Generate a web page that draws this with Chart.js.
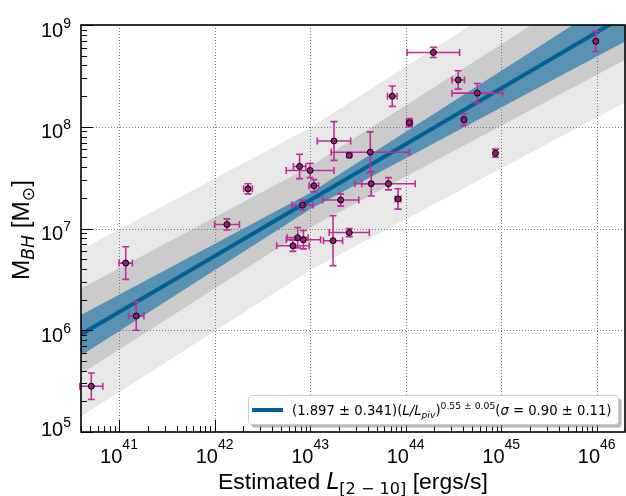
<!DOCTYPE html>
<html><head><meta charset="utf-8">
<script src="https://cdn.jsdelivr.net/npm/chart.js@4.4.1/dist/chart.umd.min.js"></script>
<style>html,body{margin:0;padding:0;background:#fff;overflow:hidden}canvas{display:block}</style>
</head><body>
<canvas id="c" width="626" height="496"></canvas>
<script>
// ---- data (log10 units) ----
const logL    = [40.71, 41.07, 41.18, 42.13, 42.35, 43.25, 43.41, 43.63, 42.89, 43.00,
                 43.04, 42.92, 43.32, 42.87, 42.93, 42.82, 43.24, 43.41, 43.64, 43.82,
                 43.92, 44.04, 44.29, 43.86, 44.55, 44.75, 44.61, 44.94, 45.99];
const logM    = [5.45, 6.66, 6.14, 7.04, 7.39, 7.86, 7.72, 7.75, 7.61, 7.57,
                 7.42, 7.23, 7.28, 6.91, 6.89, 6.83, 6.88, 6.96, 7.44, 7.44,
                 7.29, 8.04, 8.73, 8.30, 8.46, 8.33, 8.07, 7.74, 8.84];
const logLerr = [0.12, 0.07, 0.08, 0.13, 0.045, 0.175, 0.02, 0.41, 0.065, 0.25,
                 0.05, 0.11, 0.19, 0.11, 0.18, 0.17, 0.10, 0.21, 0.17, 0.28,
                 0.03, 0.03, 0.275, 0.05, 0.065, 0.265, 0.02, 0.01, 0.01];
const logMerr = [0.13, 0.16, 0.14, 0.055, 0.05, 0.19, 0.02, 0.20, 0.12, 0.07,
                 0.06, 0.05, 0.06, 0.10, 0.09, 0.055, 0.245, 0.04, 0.12, 0.06,
                 0.10, 0.04, 0.05, 0.10, 0.09, 0.095, 0.056, 0.04, 0.10];

// fit line and bands (log10 units)
const fitX       = [40.5, 46.4];
const fitY       = [5.903, 9.148];
const bandX      = [40.5, 43.0, 46.4];
const blueUpper  = [6.10, 7.35, 9.39];
const blueLower  = [5.69, 7.19, 8.89];
const darkUpper  = [6.36, 7.61, 9.65];
const darkLower  = [5.51, 7.01, 8.71];
const lightUpper = [6.74, 7.99, 10.03];
const lightLower = [5.09, 6.59, 8.29];

// axes
const xTickExp = [41, 42, 43, 44, 45, 46];
const yTickExp = [5, 6, 7, 8, 9];
const xRangeExp = [40.602, 46.296];
const yRangeExp = [5, 9];

// ---- styling ----
const SANS = '"Liberation Sans", Arial, sans-serif';
const MATH = '"DejaVu Sans", sans-serif';
const C_LIGHT = '#e8e8e8', C_DARK = '#cbcbcb', C_BLUE = 'rgb(88,145,178)', C_LINE = 'rgb(0,98,148)';
const C_ERR = '#c02d98', C_PT = '#8e1f73';

function series(xs, ys) { return xs.map((x, i) => ({x: Math.pow(10, x), y: Math.pow(10, ys[i])})); }
function band(data, fill, color, order) {
  return {type: 'line', data, fill, backgroundColor: color, borderWidth: 0, pointRadius: 0, order, tension: 0, clip: 0};
}

const ptsData = logL.map((l, i) => ({x: Math.pow(10, l), y: Math.pow(10, logM[i])}));

function drawRuns(ctx, runs, x, y, scale) {
  let cx = x;
  for (const r of runs) {
    ctx.font = (r.it ? 'italic ' : '') + (r.size * scale) + 'px ' + r.font;
    ctx.fillText(r.t, cx, y + (r.dy || 0) * scale);
    cx += ctx.measureText(r.t).width;
  }
  return cx - x;
}
function runsWidth(ctx, runs, scale) {
  let w = 0;
  for (const r of runs) {
    ctx.font = (r.it ? 'italic ' : '') + (r.size * scale) + 'px ' + r.font;
    w += ctx.measureText(r.t).width;
  }
  return w;
}
function fitScale(ctx, runs, target) {
  return target / runsWidth(ctx, runs, 1);
}

const errPlugin = {
  id: 'errbars',
  beforeDatasetDraw(chart, args) {
    if (args.index !== 7) return;
    const ctx = chart.ctx, xs = chart.scales.x, ys = chart.scales.y;
    ctx.save();
    ctx.strokeStyle = C_ERR; ctx.lineWidth = 1.6;
    const cap = 3.5;
    for (let i = 0; i < logL.length; i++) {
      const px = xs.getPixelForValue(Math.pow(10, logL[i]));
      const py = ys.getPixelForValue(Math.pow(10, logM[i]));
      const x0 = xs.getPixelForValue(Math.pow(10, logL[i] - logLerr[i]));
      const x1 = xs.getPixelForValue(Math.pow(10, logL[i] + logLerr[i]));
      const y0 = ys.getPixelForValue(Math.pow(10, logM[i] - logMerr[i]));
      const y1 = ys.getPixelForValue(Math.pow(10, logM[i] + logMerr[i]));
      ctx.beginPath();
      ctx.moveTo(x0, py); ctx.lineTo(x1, py);
      ctx.moveTo(x0, py - cap); ctx.lineTo(x0, py + cap);
      ctx.moveTo(x1, py - cap); ctx.lineTo(x1, py + cap);
      ctx.moveTo(px, y0); ctx.lineTo(px, y1);
      ctx.moveTo(px - cap, y0); ctx.lineTo(px + cap, y0);
      ctx.moveTo(px - cap, y1); ctx.lineTo(px + cap, y1);
      ctx.stroke();
    }
    ctx.restore();
  },
  afterDatasetDraw(chart, args) {
    if (args.index !== 3) return;
    // dotted grid above grey bands, below blue band
    const ctx = chart.ctx, xs = chart.scales.x, ys = chart.scales.y, a = chart.chartArea;
    ctx.save();
    ctx.strokeStyle = 'rgba(110,110,110,0.9)'; ctx.lineWidth = 1; ctx.setLineDash([1, 2]);
    ctx.beginPath();
    for (const e of xTickExp) {
      const p = Math.round(xs.getPixelForValue(Math.pow(10, e))) + 0.5;
      ctx.moveTo(p, a.top); ctx.lineTo(p, a.bottom);
    }
    for (const e of yTickExp) {
      if (e <= yRangeExp[0] || e >= yRangeExp[1]) continue;
      const p = Math.round(ys.getPixelForValue(Math.pow(10, e))) + 0.5;
      ctx.moveTo(a.left, p); ctx.lineTo(a.right, p);
    }
    ctx.stroke();
    ctx.restore();
  },
  afterDraw(chart) {
    const ctx = chart.ctx, xs = chart.scales.x, ys = chart.scales.y, a = chart.chartArea;
    ctx.save();
    // ticks (inward)
    ctx.strokeStyle = '#000'; ctx.lineWidth = 1;
    ctx.beginPath();
    for (let e = Math.floor(xRangeExp[0]); e <= Math.ceil(xRangeExp[1]); e++) {
      for (let k = 1; k <= 9; k++) {
        const v = Math.log10(k) + e;
        if (v < xRangeExp[0] || v > xRangeExp[1]) continue;
        const p = Math.round(xs.getPixelForValue(Math.pow(10, v))) + 0.5;
        const len = k === 1 ? 12 : 6;
        ctx.moveTo(p, a.bottom); ctx.lineTo(p, a.bottom - len);
      }
    }
    for (let e = yRangeExp[0]; e <= yRangeExp[1]; e++) {
      for (let k = 1; k <= 9; k++) {
        const v = Math.log10(k) + e;
        if (v < yRangeExp[0] || v > yRangeExp[1]) continue;
        const p = Math.round(ys.getPixelForValue(Math.pow(10, v))) + 0.5;
        const len = k === 1 ? 12 : 6;
        ctx.moveTo(a.left, p); ctx.lineTo(a.left + len, p);
      }
    }
    ctx.stroke();
    // frame
    ctx.lineWidth = 1.6; ctx.strokeStyle = '#000';
    ctx.strokeRect(a.left, a.top, a.right - a.left, a.bottom - a.top);

    // tick labels
    ctx.fillStyle = '#000'; ctx.textBaseline = 'alphabetic'; ctx.textAlign = 'left';
    for (const e of xTickExp) {
      const p = xs.getPixelForValue(Math.pow(10, e));
      const runs = [{t: '10', font: SANS, size: 20}, {t: String(e), font: SANS, size: 14, dy: -14}];
      const w = runsWidth(ctx, runs, 1);
      drawRuns(ctx, runs, p - w / 2, 463, 1);
    }
    for (const e of yTickExp) {
      const p = ys.getPixelForValue(Math.pow(10, e));
      const runs = [{t: '10', font: SANS, size: 20}, {t: String(e), font: SANS, size: 14, dy: -9}];
      const w = runsWidth(ctx, runs, 1);
      const base = (e === yRangeExp[0]) ? p + 3.5 : p + 11.7;
      drawRuns(ctx, runs, 71 - w, base, 1);
    }

    // x title
    const xt = [
      {t: 'Estimated ', font: SANS, size: 22},
      {t: 'L', font: MATH, size: 22, it: true},
      {t: '[2 \u2212 10]', font: MATH, size: 15.4, dy: 4.5},
      {t: ' [ergs/s]', font: SANS, size: 22}
    ];
    const sx = fitScale(ctx, xt, 270);
    const wx = runsWidth(ctx, xt, sx);
    drawRuns(ctx, xt, (a.left + a.right) / 2 - wx / 2, 489, sx);

    // y title
    const yt = [
      {t: 'M', font: SANS, size: 22},
      {t: 'BH', font: MATH, size: 15.4, it: true, dy: 4.5},
      {t: ' [M', font: SANS, size: 22},
      {t: '\u2299', font: MATH, size: 15.4, dy: 4.5},
      {t: ']', font: SANS, size: 22}
    ];
    const sy = fitScale(ctx, yt, 100);
    const wy = runsWidth(ctx, yt, sy);
    ctx.save();
    ctx.translate(29, 230);
    ctx.rotate(-Math.PI / 2);
    drawRuns(ctx, yt, -wy / 2, 0, sy);
    ctx.restore();

    // legend box
    const bx = 248.5, by = 395.5, bw = 370, bh = 29, r = 3;
    function rr(x, y, w, h) {
      ctx.beginPath();
      ctx.moveTo(x + r, y); ctx.lineTo(x + w - r, y); ctx.arcTo(x + w, y, x + w, y + r, r);
      ctx.lineTo(x + w, y + h - r); ctx.arcTo(x + w, y + h, x + w - r, y + h, r);
      ctx.lineTo(x + r, y + h); ctx.arcTo(x, y + h, x, y + h - r, r);
      ctx.lineTo(x, y + r); ctx.arcTo(x, y, x + r, y, r); ctx.closePath();
    }
    rr(bx + 3, by + 3, bw, bh); ctx.fillStyle = 'rgba(140,140,140,0.6)'; ctx.fill();
    rr(bx, by, bw, bh); ctx.fillStyle = '#fff'; ctx.fill();
    ctx.strokeStyle = '#cccccc'; ctx.lineWidth = 1; ctx.stroke();
    ctx.strokeStyle = C_LINE; ctx.lineWidth = 4; ctx.lineCap = 'butt';
    ctx.beginPath(); ctx.moveTo(252, 410); ctx.lineTo(283, 410); ctx.stroke();
    ctx.fillStyle = '#000';
    const lt = [
      {t: '(1.897 \u00b1 0.341)(', font: MATH, size: 15},
      {t: 'L/L', font: MATH, size: 15, it: true},
      {t: 'piv', font: MATH, size: 10.5, it: true, dy: 3},
      {t: ')', font: MATH, size: 15},
      {t: '0.55 \u00b1 0.05', font: MATH, size: 10.5, dy: -6.5},
      {t: '(', font: MATH, size: 15},
      {t: '\u03c3', font: MATH, size: 15, it: true},
      {t: ' = 0.90 \u00b1 0.11)', font: MATH, size: 15}
    ];
    const sl = fitScale(ctx, lt, 320);
    drawRuns(ctx, lt, 292, 415, sl);
    ctx.restore();
  }
};

new Chart(document.getElementById('c'), {
  type: 'line',
  data: {
    datasets: [
      band(series(bandX, lightUpper), '+1', C_LIGHT, 9),
      band(series(bandX, lightLower), false, C_LIGHT, 8),
      band(series(bandX, darkUpper), '+1', C_DARK, 7),
      band(series(bandX, darkLower), false, C_DARK, 6),
      band(series(bandX, blueUpper), '+1', C_BLUE, 5),
      band(series(bandX, blueLower), false, C_BLUE, 4),
      {type: 'line', data: series(fitX, fitY), borderColor: C_LINE, borderWidth: 4, pointRadius: 0, fill: false, order: 2, tension: 0},
      {type: 'line', data: ptsData, showLine: false, pointRadius: 3, pointBackgroundColor: C_PT,
       pointBorderColor: '#000', pointBorderWidth: 1, order: 1, fill: false}
    ]
  },
  options: {
    responsive: false, animation: false, devicePixelRatio: 1,
    layout: {autoPadding: false, padding: {left: 81, top: 25, right: 1, bottom: 64}},
    plugins: {legend: {display: false}, tooltip: {enabled: false}},
    events: [],
    scales: {
      x: {type: 'logarithmic', display: false, min: Math.pow(10, xRangeExp[0]), max: Math.pow(10, xRangeExp[1])},
      y: {type: 'logarithmic', display: false, min: Math.pow(10, yRangeExp[0]), max: Math.pow(10, yRangeExp[1])}
    }
  },
  plugins: [errPlugin]
});
</script>
</body></html>
